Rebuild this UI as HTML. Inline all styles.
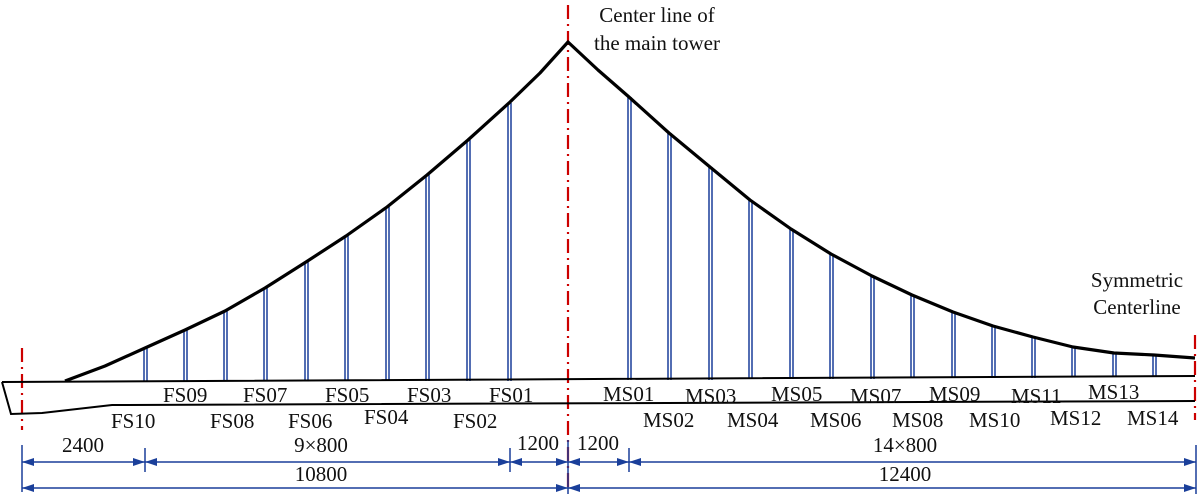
<!DOCTYPE html>
<html><head><style>body{margin:0;background:#fff}svg{display:block}text{font-family:"Liberation Serif",serif;font-size:21px;fill:#111}</style></head>
<body><svg width="1200" height="499" viewBox="0 0 1200 499">
<g stroke="#c00" stroke-width="2.2" stroke-dasharray="14,5,2,5">
<line x1="22" y1="348" x2="22" y2="430"/><line x1="568" y1="5" x2="568" y2="490"/><line x1="1195" y1="335" x2="1195" y2="420"/></g>
<g stroke="#1a3f9a" stroke-width="1.5">
<path d="M144 348V381M147 348V381M184 330V381M187 330V381M224 311V381M227 311V381M264 288V381M267 288V381M305 262V381M308 262V381M345 236V381M348 236V381M386 207V381M389 207V381M426 175V381M429 175V381M467 140V381M470 140V381M508 103V381M511 103V381M628 97V380M631 97V380M668 133V380M671 133V380M709 167V380M712 167V380M749 200V379M752 200V379M790 229V379M793 229V379M830 254V379M833 254V379M871 276V379M874 276V379M911 295V378M914 295V378M952 312V378M955 312V378M992 326V378M995 326V378M1032 337V378M1035 337V378M1072 347V377M1075 347V377M1113 353V377M1116 353V377M1153 355V377M1156 355V377"/></g>
<polyline fill="none" stroke="#000" stroke-width="3.2" stroke-linejoin="round" points="65,381 105,366 145,348 185,330 225,311 265,288 306,262 346,236 387,207 427,175 468,140 509,103 540,73 568,42 598,70 629,97 669,133 710,167 750,200 791,229 831,254 872,276 912,295 953,312 993,326 1033,337 1073,347 1114,353 1154,355 1195,358"/>
<g fill="none" stroke="#000" stroke-width="2">
<path d="M2 382L1195 376M2 382L11 414L42 413L112 405L1195 401"/></g>
<text x="163" y="402">FS09</text><text x="243" y="402">FS07</text><text x="325" y="402">FS05</text><text x="407" y="402">FS03</text><text x="489" y="402">FS01</text>
<text x="111" y="428">FS10</text><text x="210" y="428">FS08</text><text x="288" y="428">FS06</text><text x="364" y="424">FS04</text><text x="453" y="428">FS02</text>
<text x="603" y="401">MS01</text><text x="685" y="403">MS03</text><text x="771" y="401">MS05</text><text x="850" y="403">MS07</text><text x="929" y="401">MS09</text><text x="1011" y="403">MS11</text><text x="1088" y="399">MS13</text>
<text x="643" y="427">MS02</text><text x="727" y="427">MS04</text><text x="810" y="427">MS06</text><text x="892" y="427">MS08</text><text x="969" y="427">MS10</text><text x="1050" y="425">MS12</text><text x="1127" y="425">MS14</text>
<text x="657" y="22" text-anchor="middle">Center line of</text><text x="657" y="50" text-anchor="middle">the main tower</text>
<text x="1137" y="287" text-anchor="middle">Symmetric</text><text x="1137" y="314" text-anchor="middle">Centerline</text>
<text x="83" y="452" text-anchor="middle">2400</text><text x="321" y="452" text-anchor="middle">9×800</text><text x="538" y="450" text-anchor="middle">1200</text><text x="598" y="450" text-anchor="middle">1200</text><text x="905" y="452" text-anchor="middle">14×800</text>
<text x="321" y="481" text-anchor="middle">10800</text><text x="905" y="481" text-anchor="middle">12400</text>
<g stroke="#1a3f9a" stroke-width="1.5"><path d="M22 445V492M145 448V472M510 448V472M568 440V494M629 448V472M1196 445V494M22 462H1196M22 488H1196"/></g>
<g fill="#1a3f9a">
<path d="M22 462l12-4v8zM145 462l-12-4v8zM145 462l12-4v8zM510 462l-12-4v8zM510 462l12-4v8zM568 462l-12-4v8zM568 462l12-4v8zM629 462l-12-4v8zM629 462l12-4v8zM1196 462l-12-4v8z"/>
<path d="M22 488l12-4v8zM568 488l-12-4v8zM568 488l12-4v8zM1196 488l-12-4v8z"/></g>
</svg></body></html>
